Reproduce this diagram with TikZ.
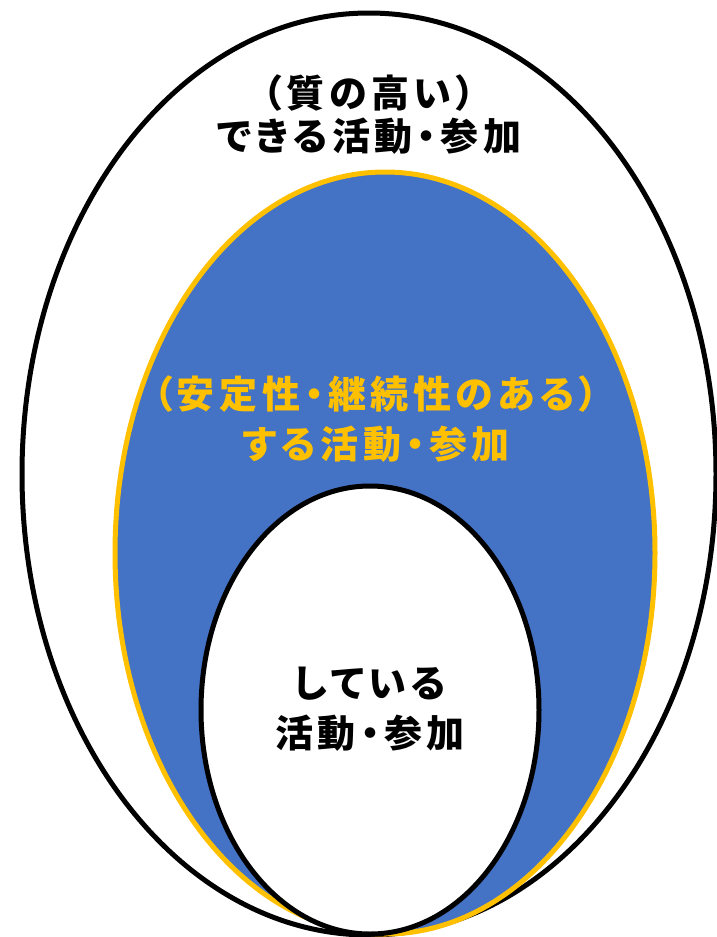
\documentclass[tikz,border=0pt]{standalone}
\usepackage{fontspec}
\setmainfont{Noto Sans CJK JP}[RawFeature=+palt, LetterSpace=12]
\definecolor{fillblue}{HTML}{4472C4}
\definecolor{goldline}{HTML}{FFC000}
\tikzset{
  lbl/.style={font=\fontsize{38}{43}\selectfont\bfseries, align=center, inner sep=0pt},
}
\begin{document}
\begin{tikzpicture}[x=1pt,y=-1pt]
\useasboundingbox[fill=white] (0,0) rectangle (716,937);
\draw[line width=5pt, fill=white] (369,474) ellipse [x radius=347, y radius=461];
\draw[line width=5pt, draw=goldline, fill=fillblue] (385,553) ellipse [x radius=270, y radius=381];
\draw[line width=5pt, fill=white] (370,710) ellipse [x radius=169, y radius=224];
\node[lbl] (quality) at (369,115) {（質の高い）\\できる活動・参加};
\node[lbl, text=goldline, font=\fontsize{38}{50}\selectfont\bfseries] (stable) at (376,419) {（安定性・継続性のある）\\する活動・参加};
\node[lbl, font=\fontsize{38}{50}\selectfont\bfseries] (doing) at (370,709) {している\\活動・参加};
\end{tikzpicture}
\end{document}
